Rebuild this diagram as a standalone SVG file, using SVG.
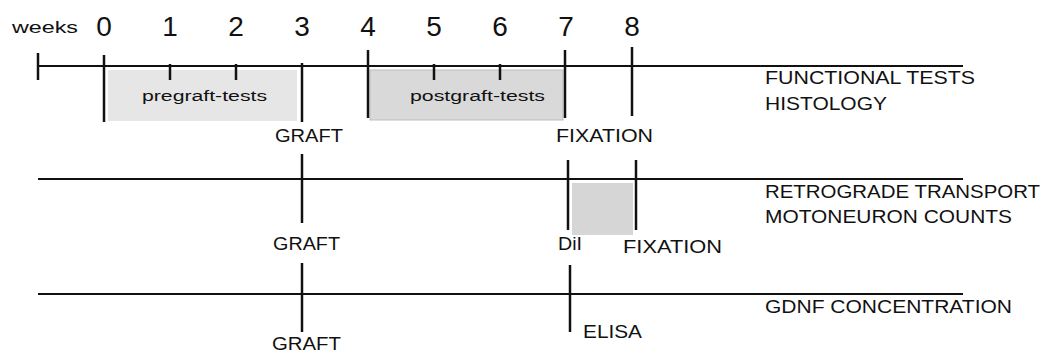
<svg xmlns="http://www.w3.org/2000/svg" width="1042" height="352" viewBox="0 0 1042 352">
<style>
text{font-family:"Liberation Sans",Arial,sans-serif;fill:#111}
.num{font-size:28px;text-anchor:middle}
.lab{font-size:18px}
.small{font-size:14px}
.axis{stroke:#111;stroke-width:2;fill:none}
.tick{stroke:#111;stroke-width:2.5;fill:none}
</style>
<rect width="1042" height="352" fill="#fff"/>
<g id="boxes">
<rect id="pregraft" x="108" y="70" width="189" height="51" fill="#e6e6e6"/>
<rect id="postgraft" x="370" y="70" width="193" height="50" fill="#d9d9d9" stroke="#bdbdbd" stroke-width="1"/>
<rect id="retro-box" x="572" y="183" width="61" height="52" fill="#d6d6d6"/>
</g>
<g id="connectors">
<line class="axis" x1="38" y1="66" x2="963" y2="66"/>
<line class="axis" x1="38" y1="179" x2="963" y2="179"/>
<line class="axis" x1="38" y1="294" x2="963" y2="294"/>
<line class="tick" x1="38" y1="53" x2="38" y2="80"/>
<line class="tick" x1="104" y1="55" x2="104" y2="122"/>
<line class="tick" x1="170" y1="64" x2="170" y2="80"/>
<line class="tick" x1="236" y1="64" x2="236" y2="80"/>
<line class="tick" x1="302" y1="63" x2="302" y2="122" stroke-width="3"/>
<line class="tick" x1="368" y1="50" x2="368" y2="118"/>
<line class="tick" x1="434" y1="64" x2="434" y2="80"/>
<line class="tick" x1="500" y1="64" x2="500" y2="80"/>
<line class="tick" x1="565" y1="50" x2="565" y2="118"/>
<line class="tick" x1="632" y1="47" x2="632" y2="116"/>
<line class="tick" x1="302" y1="154" x2="302" y2="223" stroke-width="3"/>
<line class="tick" x1="568" y1="160" x2="568" y2="230" stroke-width="3"/>
<line class="tick" x1="636" y1="160" x2="636" y2="230"/>
<line class="tick" x1="302" y1="263" x2="302" y2="332" stroke-width="3"/>
<line class="tick" x1="570" y1="265" x2="570" y2="332" stroke-width="3"/>
</g>
<g id="scale">
<text x="12" y="33" font-size="17" textLength="66" lengthAdjust="spacingAndGlyphs">weeks</text>
<text class="num" x="104" y="36">0</text>
<text class="num" x="170" y="36">1</text>
<text class="num" x="236" y="36">2</text>
<text class="num" x="302" y="36">3</text>
<text class="num" x="368" y="36">4</text>
<text class="num" x="434" y="36">5</text>
<text class="num" x="500" y="36">6</text>
<text class="num" x="566" y="36">7</text>
<text class="num" x="632" y="36">8</text>
</g>
<g id="labels-row1">
<text class="small" x="142" y="101" textLength="125" lengthAdjust="spacingAndGlyphs">pregraft-tests</text>
<text class="small" x="410" y="101" textLength="135" lengthAdjust="spacingAndGlyphs">postgraft-tests</text>
<text class="lab" x="275" y="142" textLength="68" lengthAdjust="spacingAndGlyphs">GRAFT</text>
<text class="lab" x="556" y="142" textLength="97" lengthAdjust="spacingAndGlyphs">FIXATION</text>
<text class="lab" x="765" y="84" textLength="210" lengthAdjust="spacingAndGlyphs">FUNCTIONAL TESTS</text>
<text class="lab" x="765" y="110" textLength="122" lengthAdjust="spacingAndGlyphs">HISTOLOGY</text>
</g>
<g id="labels-row2">
<text class="lab" x="273" y="250" textLength="67" lengthAdjust="spacingAndGlyphs">GRAFT</text>
<text class="lab" x="558" y="250" textLength="24" lengthAdjust="spacingAndGlyphs">DiI</text>
<text class="lab" x="623" y="253" textLength="99" lengthAdjust="spacingAndGlyphs">FIXATION</text>
<text class="lab" x="765" y="198" textLength="275" lengthAdjust="spacingAndGlyphs">RETROGRADE TRANSPORT</text>
<text class="lab" x="765" y="223" textLength="247" lengthAdjust="spacingAndGlyphs">MOTONEURON COUNTS</text>
</g>
<g id="labels-row3">
<text class="lab" x="272" y="350" textLength="69" lengthAdjust="spacingAndGlyphs">GRAFT</text>
<text class="lab" x="583" y="338" textLength="59" lengthAdjust="spacingAndGlyphs">ELISA</text>
<text class="lab" x="765" y="313" textLength="247" lengthAdjust="spacingAndGlyphs">GDNF CONCENTRATION</text>
</g>
</svg>
